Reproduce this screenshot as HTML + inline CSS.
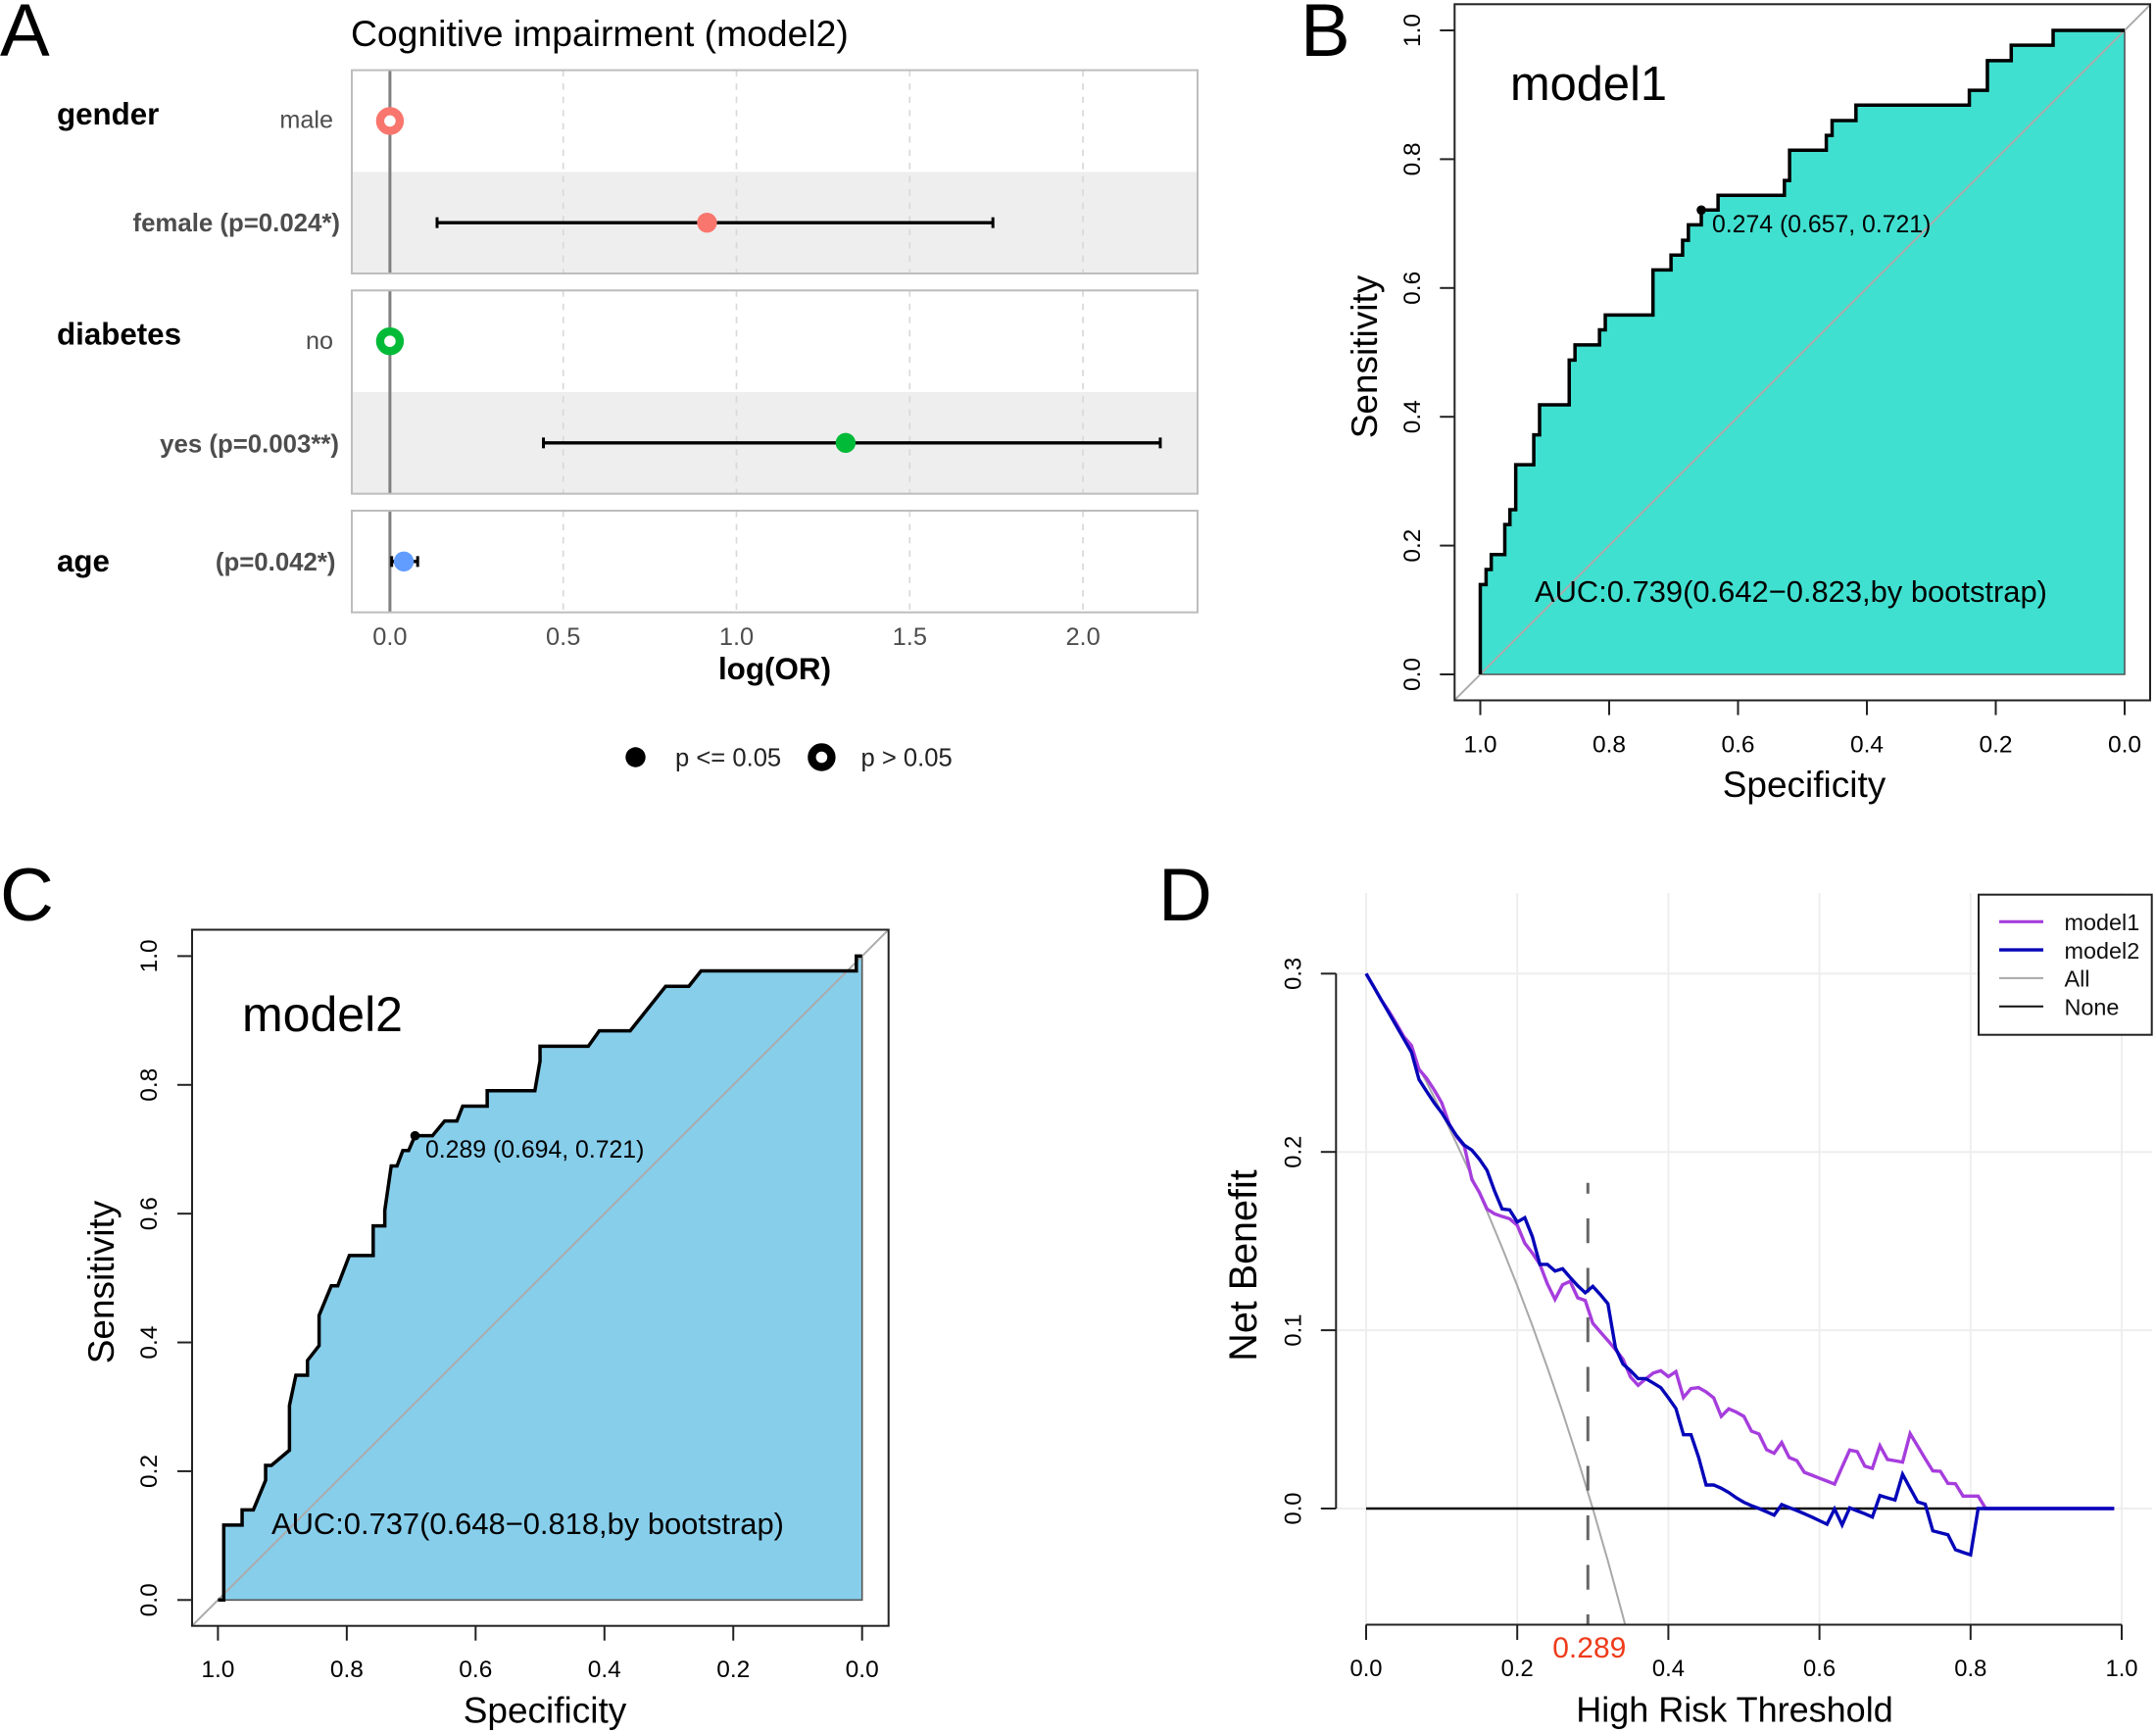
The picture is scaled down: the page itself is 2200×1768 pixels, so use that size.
<!DOCTYPE html>
<html lang="en">
<head>
<meta charset="utf-8">
<title>Cognitive impairment model figure</title>
<style>
html,body{margin:0;padding:0;background:#fff;}
svg{display:block;font-family:"Liberation Sans",Arial,Helvetica,sans-serif;}
</style>
</head>
<body>
<svg id="fig" xmlns="http://www.w3.org/2000/svg" width="2200" height="1768" viewBox="0 0 2200 1768">
  <rect x="0" y="0" width="2200" height="1768" fill="#fff"/>
  <g id="panelA"></g>
  <g id="panelB"></g>
  <g id="panelC"></g>
  <g id="panelD"></g>

  <text x="0" y="57" font-size="76">A</text>
  <text x="1327" y="57" font-size="76">B</text>
  <text x="0" y="939" font-size="76">C</text>
  <text x="1182" y="939" font-size="76">D</text>

  <text x="358" y="47" font-size="37.3">Cognitive impairment (model2)</text>
  <text x="790.5" y="693" font-size="31.4" font-weight="bold" text-anchor="middle">log(OR)</text>
  <text x="58" y="127" font-size="31.3" font-weight="bold">gender</text>
  <text x="58" y="351.5" font-size="31.3" font-weight="bold">diabetes</text>
  <text x="58" y="583" font-size="31.3" font-weight="bold">age</text>
  <text x="689" y="781.7" font-size="25.6" fill="#222">p &lt;= 0.05</text>
  <text x="878.5" y="781.7" font-size="25.6" fill="#222">p &gt; 0.05</text>

  <text x="1541" y="102" font-size="48.8">model1</text>
  <text x="1566" y="614" font-size="30.9">AUC:0.739(0.642−0.823,by bootstrap)</text>
  <text x="1747" y="237" font-size="24.8">0.274 (0.657, 0.721)</text>
  <text x="1841" y="813" font-size="37" text-anchor="middle">Specificity</text>
  <text transform="translate(1405,364) rotate(-90)" font-size="37" text-anchor="middle">Sensitivity</text>

  <text x="247" y="1052" font-size="50">model2</text>
  <text x="277" y="1565" font-size="30.9">AUC:0.737(0.648−0.818,by bootstrap)</text>
  <text x="434" y="1181" font-size="24.8">0.289 (0.694, 0.721)</text>
  <text x="556" y="1757.7" font-size="37" text-anchor="middle">Specificity</text>
  <text transform="translate(116,1308) rotate(-90)" font-size="37" text-anchor="middle">Sensitivity</text>

  <text x="1770" y="1756.6" font-size="36" text-anchor="middle">High Risk Threshold</text>
  <text transform="translate(1282,1291) rotate(-90)" font-size="39.5" text-anchor="middle">Net Benefit</text>
  <text x="1621.8" y="1691" font-size="30" fill="#ee3b1b" text-anchor="middle">0.289</text>
</svg>
<script>
// ---------- Panel A data ----------
const forestLabels = ['male', 'female (p=0.024*)', 'no', 'yes (p=0.003**)', '(p=0.042*)'];
const forestEstimate = [0, 0.915, 0, 1.315, 0.04];
const forestLow = [null, 0.136, null, 0.443, 0.005];
const forestHigh = [null, 1.74, null, 2.223, 0.08];
const forestSignificant = [false, true, false, true, true];
const forestColors = ['#F8766D', '#F8766D', '#00BA38', '#00BA38', '#619CFF'];
const forestTicks = [0, 0.5, 1, 1.5, 2];
const forestTickLabels = ['0.0', '0.5', '1.0', '1.5', '2.0'];

// ---------- Panels B / C data ----------
const rocTicks = [0, 0.2, 0.4, 0.6, 0.8, 1];
const rocTickLabels = ['0.0', '0.2', '0.4', '0.6', '0.8', '1.0'];
const roc1Spec = [1,1,.991,.991,.983,.983,.962,.962,.954,.954,.945,.945,.917,.917,.908,.908,.862,.862,.853,.853,.815,.815,.806,.806,.732,.732,.704,.704,.686,.686,.677,.677,.657,.657,.631,.631,.528,.528,.520,.520,.463,.463,.454,.454,.417,.417,.241,.241,.213,.213,.176,.176,.111,.111,0];
const roc1Sens = [0,.1395,.1395,.1628,.1628,.186,.186,.2326,.2326,.2558,.2558,.3256,.3256,.372,.372,.4186,.4186,.488,.488,.5116,.5116,.535,.535,.558,.558,.628,.628,.651,.651,.674,.674,.698,.698,.721,.721,.744,.744,.767,.767,.814,.814,.837,.837,.860,.860,.884,.884,.907,.907,.953,.953,.977,.977,1,1];
const roc1Cutoff = [0.657, 0.721];
const roc2Spec = [1,.991,.991,.9625,.9625,.945,.926,.926,.917,.889,.889,.879,.861,.861,.843,.843,.824,.814,.796,.759,.759,.741,.741,.731,.722,.713,.704,.694,.667,.648,.629,.62,.582,.582,.508,.5,.5,.425,.408,.36,.305,.269,.25,.009,.009,0];
const roc2Sens = [0,0,.1163,.1163,.14,.14,.186,.209,.209,.2326,.302,.349,.349,.372,.395,.442,.488,.488,.535,.535,.581,.581,.605,.674,.674,.698,.698,.721,.721,.744,.744,.767,.767,.791,.791,.837,.86,.86,.884,.884,.953,.953,.977,.977,1,1];
const roc2Cutoff = [0.694, 0.721];

// ---------- Panel D data ----------
const dcaThresholds = [0,.01,.02,.03,.04,.05,.06,.07,.08,.09,.10,.11,.12,.13,.14,.15,.16,.17,.18,.19,.20,.21,.22,.23,.24,.25,.26,.27,.28,.29,.30,.31,.32,.33,.34,.35,.36,.37,.38,.39,.40,.41,.42,.43,.44,.45,.46,.47,.48,.49,.50,.51,.52,.53,.54,.55,.56,.57,.58,.59,.60,.61,.62,.63,.64,.65,.66,.67,.68,.69,.70,.71,.72,.73,.74,.75,.76,.77,.78,.79,.80,.81,.82,.83,.84,.85,.86,.87,.88,.89,.90,.91,.92,.93,.94,.95,.96,.97,.98,.99];
const dcaModel1 = [.3,.2927,.2853,.279,.272,.2646,.2597,.2463,.2413,.2349,.2276,.2157,.2084,.2032,.1845,.1772,.168,.1653,.1638,.1625,.1589,.1488,.1433,.1369,.1259,.1173,.1255,.1274,.1182,.1167,.1039,.099,.0942,.0892,.0837,.0737,.0691,.0727,.076,.0773,.074,.0768,.0623,.0673,.0678,.0654,.0621,.0517,.0559,.0541,.0517,.0434,.0418,.033,.031,.037,.0286,.0269,.0203,.0187,.017,.0154,.0137,.0233,.0328,.0319,.0238,.0225,.0352,.0275,.0268,.026,.042,.035,.0279,.0211,.0209,.0141,.0139,.007,.007,.007,0,0,0,0,0,0,0,0,0,0,0,0,0,0,0,0,0,0];
const dcaModel2 = [.3,.2927,.2853,.278,.2707,.2633,.256,.2406,.234,.2276,.222,.2153,.2089,.2038,.201,.1959,.1897,.1781,.168,.1675,.1607,.1631,.1525,.1369,.1369,.1332,.1345,.1296,.125,.121,.1246,.12,.1149,.0902,.081,.0773,.0729,.0729,.0704,.0678,.0621,.0561,.0414,.0414,.0288,.0132,.0132,.0114,.009,.006,.0035,.0016,0,-.0018,-.0037,.0022,.0005,-.0011,-.0029,-.0048,-.0068,-.0088,-.0002,-.0092,.0004,-.0013,-.0029,-.0048,.0073,.006,.0048,.0192,.0114,.0037,.0024,-.0125,-.0136,-.0147,-.0231,-.0246,-.026,0,0,0,0,0,0,0,0,0,0,0,0,0,0,0,0,0,0,0];
const dcaAllThresholds = [0,.02,.04,.06,.08,.10,.12,.14,.16,.18,.20,.22,.24,.26,.28,.30,.32,.34,.343];
const dcaAllValues = [.3,.2857,.2708,.2553,.2391,.2222,.2045,.186,.1667,.1463,.125,.1026,.0789,.0541,.0278,0,-.0294,-.0606,-.0655];
const dcaNoneThresholds = [0, .99];
const dcaNoneValues = [0, 0];
const dcaCutoff = [0.2935];
const dcaXTicks = [0, .2, .4, .6, .8, 1];
const dcaXTickLabels = ['0.0', '0.2', '0.4', '0.6', '0.8', '1.0'];
const dcaYTicks = [0, .1, .2, .3];
const dcaYTickLabels = ['0.0', '0.1', '0.2', '0.3'];
const dcaLegendLabels = ['model1', 'model2', 'All', 'None'];

// ---------- helpers ----------
const NS = 'http://www.w3.org/2000/svg';
function mk(parent, tag, name, attrs, txt) {
  const el = document.createElementNS(NS, tag);
  for (const k in attrs) el.setAttribute(k, attrs[k]);
  
  
  if (txt !== undefined) el.textContent = txt;
  parent.appendChild(el);
  return el;
}
function pointsOf(xs, ys, fx, fy) {
  return xs.map(function (v, i) { return fx(v).toFixed(2) + ',' + fy(ys[i]).toFixed(2); }).join(' ');
}

// ---------- Panel A ----------
(function () {
  const g = document.getElementById('panelA');
  const x = function (v) { return 397.9 + 353.6 * v; };
  const left = 359, right = 1222, rowH = 103.7, gap = 17.3, top0 = 71.6;
  const groups = [[0, 1], [2, 3], [4]];
  let top = top0;
  const rowY = {};
  groups.forEach(function (rows, gi) {
    const h = rows.length * rowH;
    mk(g, 'rect', 'forest-panel-bg-' + gi, { x: left, y: top, width: right - left, height: h, fill: '#fff' });
    rows.forEach(function (r, j) {
      rowY[r] = top + rowH * (j + 0.5);
      if (j === 1) {
        mk(g, 'rect', 'forest-row-shade-' + r, { x: left, y: top + rowH, width: right - left, height: rowH, fill: '#eeeeee' });
      }
    });
    forestTicks.forEach(function (t) {
      if (t === 0) return;
      mk(g, 'line', 'forest-gridline', { x1: x(t), x2: x(t), y1: top, y2: top + h, stroke: '#d9d9d9', 'stroke-width': 1.7, 'stroke-dasharray': '6.5 7' });
    });
    mk(g, 'line', 'forest-zero-line-' + gi, { x1: x(0), x2: x(0), y1: top, y2: top + h, stroke: '#7f7f7f', 'stroke-width': 3 });
    mk(g, 'rect', 'forest-panel-border-' + gi, { x: left, y: top, width: right - left, height: h, fill: 'none', stroke: '#bdbdbd', 'stroke-width': 2 });
    top += h + gap;
  });
  const labelRight = [340, 347, 340, 346, 342.5];
  const labelBase = [7.2, 9, 8, 9.5, 9];
  forestLabels.forEach(function (lab, i) {
    const y = rowY[i];
    mk(g, 'text', 'forest-row-label-' + i, { x: labelRight[i], y: y + labelBase[i], 'text-anchor': 'end', 'font-size': forestSignificant[i] ? 25.8 : 25.2, 'font-weight': forestSignificant[i] ? 'bold' : 'normal', fill: '#4d4d4d' }, lab);
    if (forestLow[i] !== null) {
      mk(g, 'line', 'forest-ci-' + i, { x1: x(forestLow[i]), x2: x(forestHigh[i]), y1: y, y2: y, stroke: '#000', 'stroke-width': 3.4 });
      mk(g, 'line', 'forest-ci-low-cap-' + i, { x1: x(forestLow[i]), x2: x(forestLow[i]), y1: y - 5.5, y2: y + 5.5, stroke: '#000', 'stroke-width': 3 });
      mk(g, 'line', 'forest-ci-high-cap-' + i, { x1: x(forestHigh[i]), x2: x(forestHigh[i]), y1: y - 5.5, y2: y + 5.5, stroke: '#000', 'stroke-width': 3 });
    }
    if (forestSignificant[i]) {
      mk(g, 'circle', 'forest-point-' + i, { cx: x(forestEstimate[i]), cy: y, r: 10.2, fill: forestColors[i] });
    } else {
      mk(g, 'circle', 'forest-point-' + i, { cx: x(forestEstimate[i]), cy: y, r: 10, fill: '#fff', stroke: forestColors[i], 'stroke-width': 8.4 });
    }
  });
  forestTicks.forEach(function (t, i) {
    mk(g, 'text', 'forest-x-tick-label', { x: x(t), y: 658, 'text-anchor': 'middle', 'font-size': 25.4, fill: '#4d4d4d' }, forestTickLabels[i]);
  });
  mk(g, 'circle', 'forest-legend-significant-marker', { cx: 648.5, cy: 772.5, r: 10.2, fill: '#000' });
  mk(g, 'circle', 'forest-legend-nonsignificant-marker', { cx: 838.4, cy: 772.5, r: 10, fill: '#fff', stroke: '#000', 'stroke-width': 8.4 });
})();

// ---------- Panels B / C ----------
function drawRoc(g, prefix, cfg, specs, sens, cutoff) {
  const fx = function (s) { return cfg.x1 + (cfg.x0 - cfg.x1) * s; };
  const fy = function (s) { return cfg.y0 - (cfg.y0 - cfg.y1) * s; };
  const poly = pointsOf(specs, sens, fx, fy) + ' ' + fx(0) + ',' + fy(0) + ' ' + fx(1) + ',' + fy(0);
  mk(g, 'polygon', prefix + '-auc-area', { points: poly, fill: cfg.fill, stroke: '#555', 'stroke-width': 1.6 });
  const clipId = prefix + '-clip';
  const defs = mk(g, 'clipPath', prefix + '-clip-path', { id: clipId });
  mk(defs, 'rect', prefix + '-clip-rect', { x: cfg.bl, y: cfg.bt, width: cfg.br - cfg.bl, height: cfg.bb - cfg.bt });
  const dExt = 0.2;
  mk(g, 'line', prefix + '-diagonal', { x1: fx(1 + dExt), y1: fy(-dExt), x2: fx(-dExt), y2: fy(1 + dExt), stroke: '#ababab', 'stroke-width': 2, 'clip-path': 'url(#' + clipId + ')' });
  mk(g, 'polyline', prefix + '-curve', { points: pointsOf(specs, sens, fx, fy), fill: 'none', stroke: '#000', 'stroke-width': 3.5, 'stroke-linejoin': 'miter' });
  mk(g, 'circle', prefix + '-cutoff-point', { cx: fx(cutoff[0]), cy: fy(cutoff[1]), r: 4.8, fill: '#000' });
  mk(g, 'rect', prefix + '-plot-box', { x: cfg.bl, y: cfg.bt, width: cfg.br - cfg.bl, height: cfg.bb - cfg.bt, fill: 'none', stroke: '#222', 'stroke-width': 2 });
  rocTicks.forEach(function (t, i) {
    mk(g, 'line', prefix + '-x-tick', { x1: fx(t), x2: fx(t), y1: cfg.bb, y2: cfg.bb + 15, stroke: '#222', 'stroke-width': 2 });
    mk(g, 'text', prefix + '-x-tick-label', { x: fx(t), y: cfg.xlab, 'text-anchor': 'middle', 'font-size': 24.5 }, rocTickLabels[i]);
    mk(g, 'line', prefix + '-y-tick', { x1: cfg.bl - 15, x2: cfg.bl, y1: fy(t), y2: fy(t), stroke: '#222', 'stroke-width': 2 });
    mk(g, 'text', prefix + '-y-tick-label', { transform: 'translate(' + cfg.ylab + ',' + fy(t) + ') rotate(-90)', 'text-anchor': 'middle', 'font-size': 24.5 }, rocTickLabels[i]);
  });
}
drawRoc(document.getElementById('panelB'), 'roc1',
  { x0: 1510.5, x1: 2168, y0: 688, y1: 31, bl: 1484.3, br: 2194, bt: 4.3, bb: 714.5, xlab: 767.5, ylab: 1449, fill: '#40E0D0' },
  roc1Spec, roc1Sens, roc1Cutoff);
drawRoc(document.getElementById('panelC'), 'roc2',
  { x0: 222.4, x1: 879.7, y0: 1632.3, y1: 975.4, bl: 196, br: 906.7, bt: 948.5, bb: 1658.7, xlab: 1711, ylab: 160, fill: '#87CEEB' },
  roc2Spec, roc2Sens, roc2Cutoff);

// ---------- Panel D ----------
(function () {
  const g = document.getElementById('panelD');
  const tx = function (t) { return 1394 + 771 * t; };
  const ny = function (n) { return 1539 - 1819 * n; };
  const axisY = 1657.5, axisX = 1363.3, topY = 911, rightX = 2196;
  dcaXTicks.forEach(function (t) {
    mk(g, 'line', 'dca-vertical-gridline', { x1: tx(t), x2: tx(t), y1: topY, y2: axisY, stroke: '#eeeeee', 'stroke-width': 2 });
  });
  dcaYTicks.forEach(function (v) {
    mk(g, 'line', 'dca-horizontal-gridline', { x1: axisX, x2: rightX, y1: ny(v), y2: ny(v), stroke: '#eeeeee', 'stroke-width': 2 });
  });
  mk(g, 'polyline', 'dca-all-line', { points: pointsOf(dcaAllThresholds, dcaAllValues, tx, ny), fill: 'none', stroke: '#a8a8a8', 'stroke-width': 2 });
  mk(g, 'polyline', 'dca-none-line', { points: pointsOf(dcaNoneThresholds, dcaNoneValues, tx, ny), fill: 'none', stroke: '#111', 'stroke-width': 2.4 });
  mk(g, 'line', 'dca-cutoff-dashed-line', { x1: tx(dcaCutoff[0]), x2: tx(dcaCutoff[0]), y1: axisY, y2: 1206.7, stroke: '#666', 'stroke-width': 3, 'stroke-dasharray': '25.25 25.25', 'stroke-dashoffset': 14.75 });
  mk(g, 'polyline', 'dca-model1-line', { points: pointsOf(dcaThresholds, dcaModel1, tx, ny), fill: 'none', stroke: '#a63ddd', 'stroke-width': 3.4, 'stroke-linejoin': 'miter' });
  mk(g, 'polyline', 'dca-model2-line', { points: pointsOf(dcaThresholds, dcaModel2, tx, ny), fill: 'none', stroke: '#0505b8', 'stroke-width': 3.4, 'stroke-linejoin': 'miter' });

  mk(g, 'line', 'dca-x-axis-line', { x1: tx(0), x2: tx(1), y1: axisY, y2: axisY, stroke: '#222', 'stroke-width': 2 });
  dcaXTicks.forEach(function (t, i) {
    mk(g, 'line', 'dca-x-tick', { x1: tx(t), x2: tx(t), y1: axisY, y2: axisY + 15.5, stroke: '#222', 'stroke-width': 2 });
    mk(g, 'text', 'dca-x-tick-label', { x: tx(t), y: 1710, 'text-anchor': 'middle', 'font-size': 23.8 }, dcaXTickLabels[i]);
  });
  mk(g, 'line', 'dca-y-axis-line', { x1: axisX, x2: axisX, y1: ny(0), y2: ny(0.3), stroke: '#222', 'stroke-width': 2 });
  dcaYTicks.forEach(function (v, i) {
    mk(g, 'line', 'dca-y-tick', { x1: axisX - 15.5, x2: axisX, y1: ny(v), y2: ny(v), stroke: '#222', 'stroke-width': 2 });
    mk(g, 'text', 'dca-y-tick-label', { transform: 'translate(1327.5,' + ny(v) + ') rotate(-90)', 'text-anchor': 'middle', 'font-size': 23.8 }, dcaYTickLabels[i]);
  });

  const legend = mk(g, 'g', 'dca-legend', {});
  mk(legend, 'rect', 'dca-legend-box', { x: 2019, y: 912.7, width: 176.7, height: 143, fill: '#fff', stroke: '#222', 'stroke-width': 2 });
  const legendColors = ['#a63ddd', '#0505b8', '#a8a8a8', '#111'];
  const legendWidths = [3.2, 3.4, 2, 2];
  dcaLegendLabels.forEach(function (lab, i) {
    const y = 940.3 + 28.8 * i;
    mk(legend, 'line', 'dca-legend-line-' + lab.toLowerCase(), { x1: 2040, x2: 2085, y1: y, y2: y, stroke: legendColors[i], 'stroke-width': legendWidths[i] });
    mk(legend, 'text', 'dca-legend-label-' + lab.toLowerCase(), { x: 2106.5, y: y + 8.8, 'font-size': 23.4, fill: '#111' }, lab);
  });
})();
</script>
</body>
</html>
